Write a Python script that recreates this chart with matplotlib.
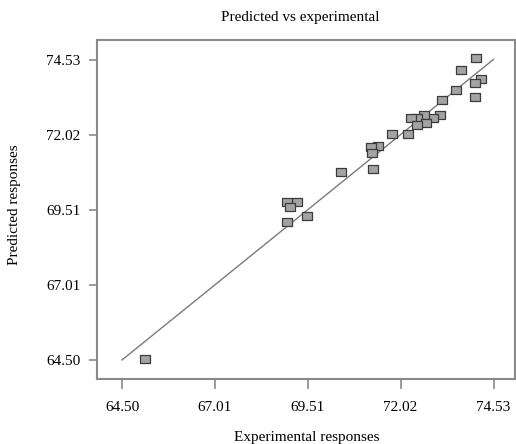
import matplotlib.pyplot as plt
import numpy as np

# experimental vs predicted responses
experimental = [65.12, 74.07, 73.66, 74.18, 74.04, 74.03, 73.53, 73.14, 73.08,
                72.89, 72.64, 72.47, 72.30, 72.72, 72.47, 72.23, 71.78, 71.42,
                71.22, 71.26, 71.28, 70.41, 69.22, 68.96, 69.03, 69.49, 68.96]
predicted = [64.53, 74.60, 74.20, 73.89, 73.76, 73.29, 73.53, 73.20, 72.71,
             72.60, 72.69, 72.60, 72.60, 72.42, 72.36, 72.06, 72.06, 71.66,
             71.64, 71.44, 70.90, 70.78, 69.79, 69.78, 69.62, 69.32, 69.13]
fit_x = [64.50, 74.53]
fit_y = [64.50, 74.56]
ticks = [64.50, 67.01, 69.51, 72.02, 74.53]
tick_labels = ['64.50', '67.01', '69.51', '72.02', '74.53']

plt.rcParams['font.family'] = ['Liberation Serif', 'DejaVu Serif']

fig = plt.figure(figsize=(5.16, 4.44), dpi=100)
ax = fig.add_axes([97 / 516, 1 - 379 / 444, (515 - 97) / 516, (379 - 40) / 444])

# wide rectangle marker
rect = [(-1.25, -0.9), (1.25, -0.9), (1.25, 0.9), (-1.25, 0.9), (-1.25, -0.9)]

ax.plot(fit_x, fit_y, color='#7a7a7a', linewidth=1.0, zorder=2)
ax.scatter(experimental, predicted, marker=rect, s=55, facecolor='#a3a3a3',
           edgecolor='#3c3c3c', linewidth=0.9, zorder=3)

ax.set_xlim(63.825, 75.11)
ax.set_ylim(63.864, 75.21)
ax.set_xticks(ticks)
ax.set_xticklabels(tick_labels)
ax.set_yticks(ticks)
ax.set_yticklabels(tick_labels)

for s in ax.spines.values():
    s.set_color('#8a8a8a')
    s.set_linewidth(1.5)

ax.tick_params(axis='x', direction='out', length=7, width=1.2, color='#8a8a8a',
               pad=9, labelsize=11)
ax.tick_params(axis='y', direction='out', length=6, width=1.2, color='#8a8a8a',
               pad=6, labelsize=11)

fig.text(300 / 516, 1 - 17 / 444, 'Predicted vs experimental', ha='center',
         va='center', fontsize=11)
fig.text(307 / 516, 1 - 437 / 444, 'Experimental responses', ha='center',
         va='center', fontsize=11)
fig.text(15 / 516, 1 - 205 / 444, 'Predicted responses', ha='center',
         va='center', rotation=90, fontsize=11)

fig.savefig('out.png', dpi=100)
plt.close()
